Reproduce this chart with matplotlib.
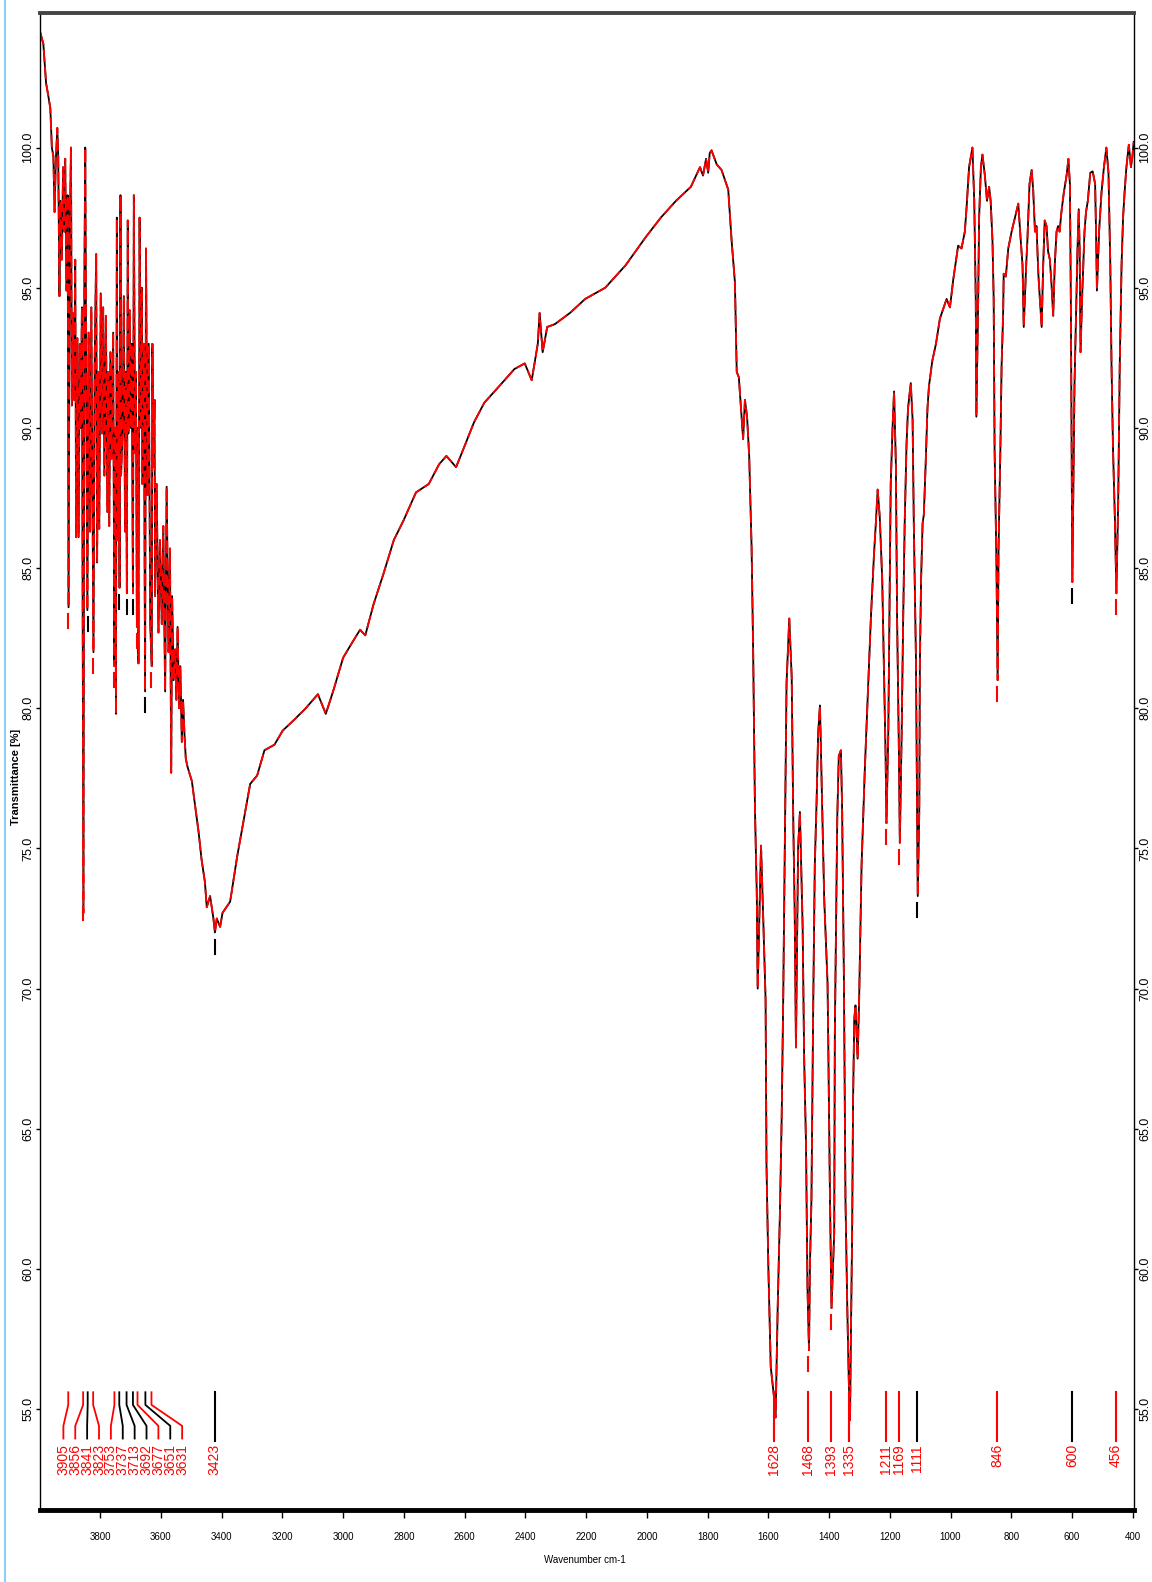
import numpy as np
import matplotlib.pyplot as plt
from matplotlib.lines import Line2D

plt.rcParams['font.family'] = ['Liberation Sans', 'DejaVu Sans']

# spectrum: wavenumber (cm-1) and transmittance (%)
wavenumber = [3997, 3987, 3978, 3970, 3964, 3959, 3954, 3950, 3946, 3941, 3938, 3934, 3931, 3926,
              3922, 3918, 3915, 3911, 3907, 3904, 3900, 3896, 3893, 3890, 3886, 3882, 3879, 3875,
              3871, 3867, 3864, 3860, 3855, 3852, 3849, 3846, 3842, 3838, 3833, 3829, 3822, 3818,
              3813, 3810, 3806, 3803, 3798, 3794, 3790, 3786, 3781, 3776, 3773, 3770, 3766, 3762,
              3757, 3753, 3750, 3748, 3745, 3742, 3739, 3736, 3733, 3731, 3726, 3722, 3718, 3715,
              3712, 3709, 3707, 3703, 3699, 3696, 3692, 3689, 3685, 3682, 3679, 3677, 3674, 3670,
              3666, 3663, 3661, 3656, 3652, 3649, 3644, 3640, 3635, 3630, 3628, 3625, 3621, 3619,
              3614, 3608, 3603, 3597, 3592, 3586, 3581, 3575, 3570, 3566, 3563, 3558, 3553, 3549,
              3545, 3540, 3536, 3531, 3527, 3522, 3518, 3512, 3498, 3487, 3476, 3466, 3455, 3449,
              3438, 3427, 3422, 3416, 3405, 3397, 3372, 3349, 3326, 3306, 3283, 3259, 3226, 3199,
              3160, 3123, 3083, 3057, 3033, 3000, 2967, 2944, 2927, 2900, 2867, 2833, 2801, 2760,
              2718, 2684, 2660, 2628, 2602, 2569, 2535, 2485, 2436, 2402, 2379, 2359, 2353, 2343,
              2328, 2303, 2253, 2203, 2137, 2070, 2004, 1954, 1904, 1855, 1825, 1815, 1805, 1798,
              1793, 1787, 1770, 1754, 1732, 1721, 1710, 1704, 1697, 1688, 1683, 1677, 1670, 1663,
              1655, 1650, 1644, 1638, 1635, 1624, 1617, 1609, 1606, 1600, 1592, 1581, 1576, 1569,
              1562, 1556, 1551, 1545, 1540, 1531, 1523, 1518, 1513, 1509, 1502, 1496, 1487, 1482,
              1476, 1471, 1466, 1463, 1458, 1452, 1447, 1441, 1436, 1430, 1423, 1416, 1405, 1403,
              1397, 1392, 1383, 1381, 1373, 1368, 1361, 1357, 1351, 1346, 1340, 1335, 1331, 1328,
              1324, 1321, 1317, 1313, 1306, 1301, 1293, 1282, 1271, 1262, 1252, 1246, 1240, 1233,
              1225, 1220, 1214, 1211, 1205, 1200, 1197, 1191, 1186, 1180, 1176, 1170, 1167, 1161,
              1156, 1151, 1145, 1140, 1131, 1125, 1121, 1114, 1110, 1108, 1103, 1101, 1097, 1092,
              1088, 1082, 1076, 1071, 1060, 1048, 1035, 1013, 1002, 991, 975, 964, 953, 947,
              939, 928, 922, 917, 915, 909, 906, 900, 895, 887, 880, 873, 868, 862,
              858, 855, 849, 845, 842, 836, 832, 827, 825, 818, 810, 799, 788, 777,
              769, 763, 759, 751, 747, 740, 733, 728, 722, 717, 711, 706, 700, 695,
              690, 684, 679, 673, 668, 662, 657, 651, 646, 641, 635, 627, 618, 612,
              607, 604, 600, 599, 595, 592, 588, 582, 578, 575, 572, 567, 559, 554,
              548, 540, 532, 524, 521, 518, 511, 503, 495, 487, 480, 474, 470, 465,
              459, 454, 448, 443, 437, 432, 427, 421, 413, 406, 402, 397]

transmittance = [104.1, 103.7, 102.3, 101.8, 101.4, 100.0, 99.7, 97.7, 99.5, 100.7, 99.7, 94.7, 98.1, 96.0,
                 99.3, 97.0, 99.6, 94.9, 98.3, 83.6, 97.0, 100.0, 90.8, 94.1, 91.0, 96.0, 86.1, 93.2,
                 86.1, 93.0, 90.0, 94.3, 72.7, 95.0, 100.0, 92.0, 83.5, 93.4, 86.3, 94.3, 82.0, 92.4,
                 96.2, 85.2, 92.0, 86.4, 94.8, 89.8, 94.3, 88.3, 94.0, 87.0, 92.0, 86.5, 92.7, 88.9,
                 93.4, 81.5, 90.0, 79.8, 97.5, 86.0, 92.0, 84.3, 98.3, 88.3, 90.0, 94.7, 86.3, 92.0,
                 84.1, 97.4, 89.8, 94.2, 90.0, 93.0, 84.1, 98.3, 89.1, 92.0, 82.9, 90.0, 81.6, 97.5,
                 90.0, 95.0, 88.0, 93.0, 80.6, 96.4, 87.6, 93.0, 83.0, 81.5, 93.0, 88.6, 91.0, 84.0,
                 88.0, 82.7, 86.0, 83.0, 86.5, 80.6, 87.9, 82.0, 85.7, 77.7, 84.0, 81.0, 82.1, 80.3,
                 82.9, 80.0, 81.5, 78.8, 80.3, 79.0, 78.2, 77.9, 77.4, 76.5, 75.6, 74.6, 73.8, 72.9,
                 73.3, 72.5, 72.0, 72.5, 72.2, 72.7, 73.1, 74.7, 76.1, 77.3, 77.6, 78.5, 78.7, 79.2,
                 79.6, 80.0, 80.5, 79.8, 80.6, 81.8, 82.4, 82.8, 82.6, 83.7, 84.8, 86.0, 86.7, 87.7,
                 88.0, 88.7, 89.0, 88.6, 89.3, 90.2, 90.9, 91.5, 92.1, 92.3, 91.7, 93.0, 94.1, 92.7,
                 93.6, 93.7, 94.1, 94.6, 95.0, 95.8, 96.8, 97.5, 98.1, 98.6, 99.3, 99.0, 99.6, 99.1,
                 99.8, 99.9, 99.4, 99.2, 98.5, 96.7, 95.2, 92.0, 91.8, 90.4, 89.6, 91.0, 90.4, 89.0,
                 85.7, 82.1, 76.4, 73.4, 70.0, 75.1, 72.6, 69.6, 63.7, 60.1, 56.5, 55.4, 54.7, 58.7,
                 61.9, 65.4, 69.6, 75.6, 80.9, 83.2, 81.1, 76.1, 72.6, 67.9, 75.0, 76.3, 72.2, 67.5,
                 64.5, 59.3, 57.1, 60.1, 62.5, 69.6, 74.4, 76.7, 79.1, 80.1, 76.6, 73.2, 70.2, 68.4,
                 62.5, 58.6, 61.3, 68.4, 76.1, 78.3, 78.5, 76.4, 70.2, 62.5, 58.6, 56.0, 54.6, 57.7,
                 61.3, 66.0, 68.9, 69.4, 67.5, 69.6, 74.4, 77.9, 80.9, 83.3, 85.5, 86.6, 87.8, 86.8,
                 84.6, 81.8, 78.4, 75.9, 79.1, 84.6, 88.0, 90.0, 91.3, 88.7, 83.2, 78.4, 75.2, 79.1,
                 83.2, 86.6, 89.4, 90.7, 91.6, 90.3, 86.6, 81.8, 76.3, 73.3, 76.3, 81.6, 84.6, 86.6,
                 86.9, 88.7, 90.7, 91.5, 92.4, 93.0, 93.9, 94.6, 94.3, 95.3, 96.5, 96.4, 97.0, 97.9,
                 99.3, 100.0, 98.1, 94.6, 90.4, 94.6, 97.5, 99.3, 99.75, 99.0, 98.1, 98.6, 98.1, 96.7,
                 94.6, 89.2, 85.3, 81.0, 85.7, 89.2, 92.2, 94.0, 95.5, 95.4, 96.4, 97.0, 97.5, 98.0,
                 96.7, 95.8, 93.6, 95.8, 96.7, 98.7, 99.2, 98.5, 97.0, 97.2, 95.5, 94.6, 93.6, 95.8,
                 97.4, 97.2, 96.3, 96.0, 95.2, 94.0, 95.8, 97.0, 97.2, 97.0, 97.7, 98.4, 99.0, 99.6,
                 98.7, 94.6, 86.3, 84.5, 88.6, 91.5, 93.4, 96.4, 97.8, 96.4, 92.7, 94.6, 97.0, 97.7,
                 98.1, 99.1, 99.15, 98.7, 97.0, 94.9, 97.0, 98.4, 99.3, 100.0, 99.1, 95.8, 92.2, 89.2,
                 86.8, 84.1, 87.4, 92.2, 95.8, 97.5, 98.4, 99.3, 100.1, 99.3, 99.6, 100.2]

# peak picking table
peak_pos = [3905, 3856, 3841, 3823, 3753, 3737, 3713, 3692, 3677, 3651, 3631,
            3423, 1580, 1468, 1393, 1335, 1211, 1169, 1111, 846, 600, 456]
peak_text = ['3905', '3856', '3841', '3823', '3753', '3737', '3713', '3692', '3677', '3651', '3631',
             '3423', '1628', '1468', '1393', '1335', '1211', '1169', '1111', '846', '600', '456']
peak_min = [83.6, 73.2, 83.5, 82.0, 81.5, 84.3, 84.1, 84.1, 82.9, 80.6, 81.5,
            72.0, 54.7, 57.1, 58.6, 54.6, 75.9, 75.2, 73.3, 81.0, 84.5, 84.1]
peak_color = ['red', 'red', 'black', 'red', 'red', 'black', 'black', 'black', 'red', 'black', 'red',
              'black', 'red', 'red', 'red', 'red', 'red', 'red', 'black', 'red', 'black', 'red']

fig = plt.figure(figsize=(11.52, 15.82), dpi=100)
ax = fig.add_axes([40 / 1152, 1 - 1510 / 1582, 1094 / 1152, 1497 / 1582])

ax.plot(wavenumber, transmittance, color='black', lw=1.3)
ax.plot(wavenumber, transmittance, color='red', lw=1.3, ls=(0, (7, 2.5)))

# little ticks under each picked band
for x, m, c in zip(peak_pos, peak_min, peak_color):
    ax.plot([x, x], [m - 0.25, m - 0.75], color=c, lw=1.5)

# labels: crowded group fanned out, the rest straight down
n_group = 11
spread = np.linspace(3921, 3530, n_group)
for i, (x, t, c) in enumerate(zip(peak_pos, peak_text, peak_color)):
    if i < n_group:
        lx = spread[i]
        ax.plot([x, x, lx, lx], [55.6, 55.15, 54.4, 53.95], color=c, lw=1.3)
    else:
        lx = x
        ax.plot([x, x], [55.6, 53.85], color=c, lw=1.5)
    ax.text(lx, 53.75, t, rotation=90, ha='center', va='top', color='red', fontsize=10)

ax.set_xlim(3998, 396)
ax.set_ylim(51.4, 104.8)

ax.set_xticks(np.arange(3800, 399, -200))
ax.set_yticks(np.arange(55, 101, 5))
ax.set_yticklabels(['%.1f' % v for v in np.arange(55, 101, 5)])
ax.tick_params(axis='x', direction='out', length=6, width=1, pad=10, labelsize=7)
ax.tick_params(axis='y', direction='out', length=3, width=1, left=True, right=True,
               labelleft=True, labelright=True, labelsize=9, labelrotation=90, pad=1)
for lab in ax.get_yticklabels():
    lab.set_va('center')

ax.spines['top'].set_linewidth(2.8)
ax.spines['top'].set_color('#444444')
ax.spines['bottom'].set_linewidth(3.5)
ax.spines['left'].set_linewidth(1)
ax.spines['right'].set_linewidth(1)

ax.set_xlabel('Wavenumber cm-1', fontsize=7)
ax.xaxis.set_label_coords(0.498, -0.03)
ax.set_ylabel('Transmittance [%]', fontsize=8, fontweight='bold')
ax.yaxis.set_label_coords(-0.017, 0.49)

# window border at the left edge of the screenshot
fig.add_artist(Line2D([5 / 1152, 5 / 1152], [0, 1], color='#8ccff0', lw=1.5))

fig.savefig('out.png', dpi=100)
